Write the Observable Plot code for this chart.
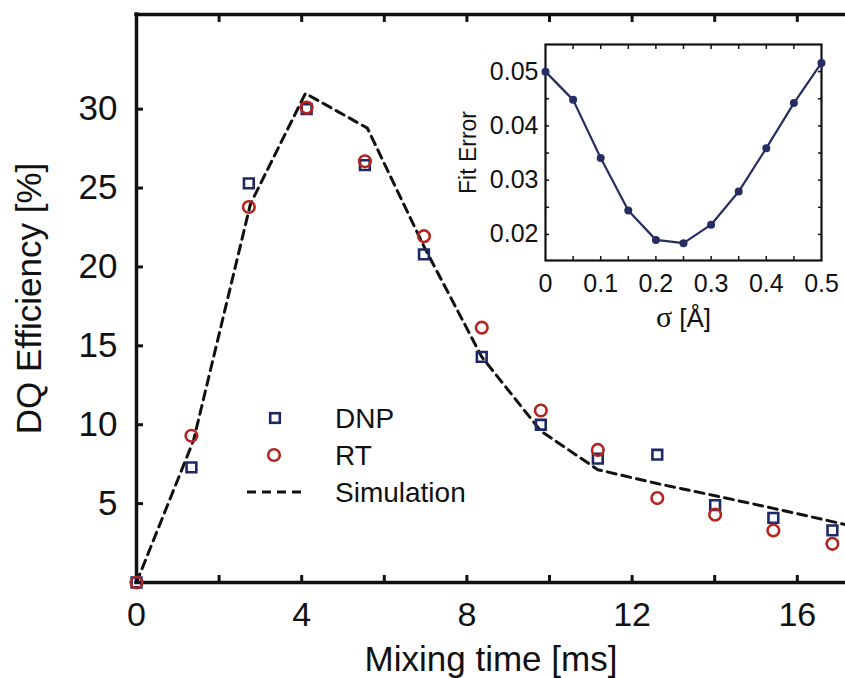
<!DOCTYPE html>
<html><head><meta charset="utf-8">
<script src="https://cdn.jsdelivr.net/npm/d3@7"></script>
<script src="https://cdn.jsdelivr.net/npm/@observablehq/plot@0.6"></script>
<style>
body{margin:0;background:#fff;overflow:hidden}
#wrap{position:relative;width:845px;height:678px}
#wrap svg{position:absolute}
</style></head><body><div id="wrap"></div>
<script>
// ---- main chart data ----
const mixingTime = [0, 1.33, 2.72, 4.12, 5.53, 6.96, 8.36, 9.79, 11.17, 12.61, 14.01, 15.42, 16.85];
const dnp = [0, 7.3, 25.3, 30.0, 26.45, 20.8, 14.3, 10.0, 7.85, 8.1, 4.9, 4.1, 3.3];
const rt = [0, 9.3, 23.8, 30.1, 26.7, 21.95, 16.15, 10.9, 8.4, 5.35, 4.3, 3.3, 2.45];
const simTime = [0, 1.38, 2.76, 4.09, 5.59, 6.96, 8.36, 9.79, 11.17, 12.61, 14.01, 15.42, 16.85, 18.25];
const simulation = [0, 9.0, 24.0, 31.0, 28.8, 21.3, 14.3, 9.6, 7.15, 6.27, 5.5, 4.7, 3.86, 3.0];
const xTicks = [0, 4, 8, 12, 16];
const xMinorTicks = [2, 4, 6, 8, 10, 12, 14, 16];
const yTicks = [5, 10, 15, 20, 25, 30];
const legendLabels = ["DNP", "RT", "Simulation"];
// ---- inset data ----
const sigma = [0, 0.05, 0.1, 0.15, 0.2, 0.25, 0.3, 0.35, 0.4, 0.45, 0.5];
const fitError = [0.0500, 0.0448, 0.0341, 0.0244, 0.0190, 0.0184, 0.0218, 0.0279, 0.0359, 0.0442, 0.0516];
const insetXTicks = [0, 0.1, 0.2, 0.3, 0.4, 0.5];
const insetXMinor = [0.05, 0.1, 0.15, 0.2, 0.25, 0.3, 0.35, 0.4, 0.45];
const insetYTicks = [0.02, 0.03, 0.04, 0.05];
const insetYMinor = [0.02, 0.025, 0.03, 0.035, 0.04, 0.045, 0.05];

const font = "'Liberation Sans', Arial, Helvetica, sans-serif";
const navy = "#1f2866", red = "#b3261e", ink = "#111";

const rows = mixingTime.map((t, i) => ({t, dnp: dnp[i], rt: rt[i]}));
const simRows = simTime.map((t, i) => ({t, v: simulation[i]}));

// ticks-only axis (inward) and text-only axis helpers
const tickOnly = (fn, data, o) => fn(data, {fill: "none", label: null, stroke: ink, ...o});
const textOnly = (fn, data, o) => fn(data, {tickSize: 0, label: null, fill: ink, ...o});

const main = Plot.plot({
  width: 845, height: 678,
  marginLeft: 136, marginRight: 0, marginTop: 14, marginBottom: 96,
  style: {fontFamily: font, background: "transparent", color: ink, overflow: "visible"},
  x: {domain: [0, 709 / 41.3], axis: null},
  y: {domain: [0, 36], axis: null},
  marks: [
    Plot.line(simRows, {x: "t", y: "v", stroke: ink, strokeWidth: 3, strokeDasharray: "9,6", clip: true}),
    tickOnly(Plot.axisY, yTicks, {anchor: "left", tickSize: 7, dx: 7, strokeWidth: 3}),
    tickOnly(Plot.axisX, xMinorTicks, {anchor: "bottom", tickSize: 7, dy: -7, strokeWidth: 3}),
    tickOnly(Plot.axisX, xMinorTicks, {anchor: "top", tickSize: 7, dy: 7, strokeWidth: 3}),
    textOnly(Plot.axisY, yTicks, {anchor: "left", tickPadding: 19, fontSize: 35}),
    textOnly(Plot.axisX, xTicks, {anchor: "bottom", tickPadding: 19, fontSize: 34}),
    Plot.ruleX([0], {stroke: ink, strokeWidth: 3.5, strokeLinecap: "square"}),
    Plot.ruleY([0, 36], {stroke: ink, strokeWidth: 3.5, strokeLinecap: "square"}),
    Plot.dot(rows, {x: "t", y: "dnp", symbol: "square", r: 5.5, stroke: navy, strokeWidth: 2.6, fill: "none"}),
    Plot.dot(rows, {x: "t", y: "rt", symbol: "circle", r: 5.8, stroke: red, strokeWidth: 2.6, fill: "none"}),
    Plot.text(["Mixing time [ms]"], {frameAnchor: "bottom", dy: 88, lineAnchor: "bottom", textAnchor: "middle", fontSize: 35, fill: ink}),
    Plot.text(["DQ Efficiency [%]"], {frameAnchor: "left", dx: -96, rotate: -90, lineAnchor: "bottom", textAnchor: "middle", fontSize: 35, fill: ink})
  ]
});
main.style.left = "0px"; main.style.top = "0px";
document.getElementById("wrap").appendChild(main);

// ---- inset ----
const insetRows = sigma.map((s, i) => ({s, e: fitError[i]}));
const inset = Plot.plot({
  width: 400, height: 310,
  marginLeft: 105, marginRight: 19, marginTop: 14, marginBottom: 80,
  style: {fontFamily: font, background: "transparent", color: ink, overflow: "visible"},
  x: {domain: [0, 0.5], axis: null},
  y: {domain: [0.0152, 0.055], axis: null},
  marks: [
    Plot.frame({stroke: ink, strokeWidth: 2.2}),
    tickOnly(Plot.axisX, insetXMinor, {anchor: "bottom", tickSize: 4, dy: -4, strokeWidth: 1.5}),
    tickOnly(Plot.axisX, insetXMinor, {anchor: "top", tickSize: 4, dy: 4, strokeWidth: 1.5}),
    tickOnly(Plot.axisY, insetYMinor, {anchor: "left", tickSize: 4, dx: 4, strokeWidth: 1.5}),
    tickOnly(Plot.axisY, insetYMinor, {anchor: "right", tickSize: 4, dx: -4, strokeWidth: 1.5}),
    textOnly(Plot.axisY, insetYTicks, {anchor: "left", tickPadding: 7, fontSize: 25, tickFormat: d3.format(".2f")}),
    textOnly(Plot.axisX, insetXTicks, {anchor: "bottom", tickPadding: 14, fontSize: 25, tickFormat: d => d === 0 ? "0" : d3.format(".1f")(d)}),
    Plot.line(insetRows, {x: "s", y: "e", stroke: "#262d62", strokeWidth: 2.2}),
    Plot.dot(insetRows, {x: "s", y: "e", r: 4, fill: "#262d62"}),
    Plot.text(["Fit Error"], {frameAnchor: "left", dx: -70, rotate: -90, lineAnchor: "bottom", textAnchor: "middle", fontSize: 23, fill: ink}),
    Plot.text(["σ [Å]"], {frameAnchor: "bottom", dy: 66, lineAnchor: "bottom", textAnchor: "middle", fontSize: 26, fill: ink})
  ]
});
inset.style.left = "440px"; inset.style.top = "30px";
document.getElementById("wrap").appendChild(inset);
d3.select(inset).selectAll("text").filter(function() { return this.textContent === "σ [Å]"; })
  .each(function() {
    const t = d3.select(this);
    t.text(null);
    t.append("tspan").attr("font-family", "'Liberation Serif', 'DejaVu Serif', serif").attr("font-size", 30).text("σ");
    t.append("tspan").text(" [Å]");
  });

// ---- legend ----
const leg = d3.select("#wrap").append("svg")
  .attr("width", 260).attr("height", 125)
  .style("left", "230px").style("top", "395px")
  .style("font-family", font);
const rowY = [23, 60, 97];
leg.append("rect").attr("x", 45 - 4.8).attr("y", rowY[0] - 4.8).attr("width", 9.6).attr("height", 9.6)
  .attr("fill", "none").attr("stroke", navy).attr("stroke-width", 2.6);
leg.append("circle").attr("cx", 44).attr("cy", rowY[1]).attr("r", 5.8)
  .attr("fill", "none").attr("stroke", red).attr("stroke-width", 2.6);
leg.append("line").attr("x1", 17).attr("x2", 75).attr("y1", rowY[2]).attr("y2", rowY[2])
  .attr("stroke", ink).attr("stroke-width", 3).attr("stroke-dasharray", "9,6");
legendLabels.forEach((s, i) => {
  leg.append("text").attr("x", 105).attr("y", rowY[i] + 10).attr("font-size", 28).attr("fill", ink).text(s);
});
</script>
</body></html>
